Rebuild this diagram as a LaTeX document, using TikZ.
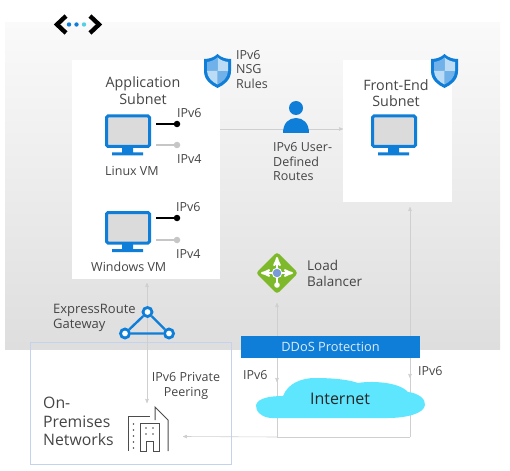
\documentclass[tikz,border=0pt]{standalone}
\usepackage{fontspec}
\setmainfont{Open Sans}
\usetikzlibrary{arrows}
\definecolor{azblue}{HTML}{0F7ED8}
\definecolor{txtgray}{HTML}{454545}
\definecolor{linegray}{HTML}{C6C6C6}
\definecolor{flowgray}{HTML}{CFCFCF}
\definecolor{cloudblue}{HTML}{5EE6FF}
\definecolor{lbgreen}{HTML}{7DB92B}
\definecolor{premblue}{HTML}{C5D2EE}
\tikzset{
  lbl_n/.style = {align=left, inner sep=0pt, text=txtgray,
    font=\fontsize{12.5}{14.5}\selectfont},
  big_n/.style = {lbl_n, font=\fontsize{15.8}{18.5}\selectfont},
  whitebox/.style = {fill=white, draw=none},
  flow/.style = {->, >=stealth', draw=flowgray, line width=0.6pt},
  wire_on/.style = {draw=black, line width=1.1pt},
  wire_off/.style = {draw=linegray, line width=1.1pt},
  dot_on/.style = {circle, fill=black, inner sep=0pt, minimum size=6.5pt},
  dot_off/.style = {circle, fill=linegray, inner sep=0pt, minimum size=6.5pt},
  hub_n/.style = {circle, draw=azblue, fill=white, line width=2.8pt,
    inner sep=0pt, minimum size=9pt},
  monitor/.pic = {
    \draw [azblue, fill=black!14, line width=3pt, rounded corners=1.5pt]
      (1.5,1.5) rectangle (44.5,32);
    \fill [azblue] (17,33) rectangle (28,38) (7,38) rectangle (38,41);
  },
  shieldicon/.pic = {
    \fill [azblue] (13.5,0) .. controls (10,3.5) and (5,5) .. (0,5) -- (0,17)
      .. controls (0,26) and (7,31) .. (13.5,34)
      .. controls (20,31) and (27,26) .. (27,17) -- (27,5)
      .. controls (22,5) and (17,3.5) .. (13.5,0) -- cycle;
    \begin{scope}
      \clip (13.5,3.5) .. controls (10.5,6) and (7,7.5) .. (3,8) -- (3,17)
        .. controls (3,23) and (8,28) .. (13.5,30.5)
        .. controls (19,28) and (24,23) .. (24,17) -- (24,8)
        .. controls (20,7.5) and (16.5,6) .. (13.5,3.5) -- cycle;
      \fill [azblue!60] (0,0) rectangle (13.5,17) (13.5,17) rectangle (27,34);
      \fill [azblue!28] (13.5,0) rectangle (27,17) (0,17) rectangle (13.5,34);
    \end{scope}
  },
}

\begin{document}
\begin{tikzpicture}[x=1pt,y=-1pt]
\useasboundingbox (0,0) rectangle (510,470);
% panel and subnets
\fill [top color=black!2, middle color=black!3, bottom color=black!13]
  (5,23) rectangle (500,349);
\path [whitebox] (72,60) rectangle (220,279);
\path [whitebox] (343,60) rectangle (452,202);
\draw [draw=premblue, line width=0.8pt] (30.5,342.5) rectangle (231,464);

% named points for the connectors
\coordinate (appright) at (220,129);
\coordinate (frontleft) at (343,129);
\coordinate (fronttop) at (410,207);
\coordinate (lbtop) at (277,303);
\coordinate (botleft) at (277,437);
\coordinate (botright) at (410,437);
\coordinate (officeright) at (183,436.5);
\coordinate (appbottom) at (147,283);
\coordinate (officetop) at (147,403);
\coordinate (tipl) at (277,382);
\coordinate (tipr) at (410,378);
\coordinate (stubl) at (277,376);
\coordinate (stubr) at (410,372);

\draw [flow] (appright) -- (frontleft);
\draw [flow, <->] (appbottom) -- (officetop);
\draw [flow] (botright) -- (fronttop);
\draw [flow] (botleft) -- (lbtop);
\draw [draw=flowgray, line width=0.6pt] (botleft) -- (botright);
\draw [flow] (botleft) -- (officeright);

% top logo
\draw [line width=4.4pt, line join=miter] (66,16) -- (57,24.5) -- (66,33);
\draw [line width=4.4pt, line join=miter] (90,16) -- (99,24.5) -- (90,33);
\fill [azblue] (69,24.5) circle (2.2) (76.5,24.5) circle (2.2);
\fill [cloudblue!90!black] (84,24.5) circle (2.2);

% application subnet
\node [lbl_n, align=center, font=\fontsize{14.3}{16.5}\selectfont] (appname) at (143,90.5) {Application\\Subnet};
\pic at (105,114.5) {monitor};
\pic at (105,211) {monitor};
\coordinate (linuxa) at (156,124);
\coordinate (linuxb) at (156,145);
\coordinate (wina) at (156,218);
\coordinate (winb) at (156,240);
\node [dot_on] (linux6) at (177,124) {};
\node [dot_off] (linux4) at (177,145) {};
\node [dot_on] (win6) at (177,218) {};
\node [dot_off] (win4) at (177,240) {};
\draw [wire_on] (linuxa) -- (linux6);
\draw [wire_off] (linuxb) -- (linux4);
\draw [wire_on] (wina) -- (win6);
\draw [wire_off] (winb) -- (win4);
\node [lbl_n, anchor=west] (linux6t) at (177,113) {IPv6};
\node [lbl_n, anchor=west] (linux4t) at (177,159) {IPv4};
\node [lbl_n, anchor=west] (win6t) at (176,207) {IPv6};
\node [lbl_n, anchor=west] (win4t) at (176,254) {IPv4};
\node [lbl_n, anchor=west] (linuxt) at (105,171) {Linux VM};
\node [lbl_n, anchor=west] (wint) at (91,267) {Windows VM};

% shields and routes
\pic at (204,54) {shieldicon};
\pic at (431,54) {shieldicon};
\node [lbl_n, anchor=west] (nsgt) at (236,69.5) {IPv6\\NSG\\Rules};
\node [lbl_n, anchor=west] (routest) at (273,162) {IPv6 User-\\Defined\\Routes};
\fill [azblue] (296,108) circle (7);
\fill [azblue] (283,133) .. controls (283,123) and (289,118) .. (296,118)
  .. controls (303,118) and (309,123) .. (309,133) -- cycle;

% front-end subnet
\node [lbl_n, align=center, font=\fontsize{14.3}{16.5}\selectfont] (frontname) at (396,93) {Front-End\\Subnet};
\pic at (371,114.5) {monitor};

% load balancer
\fill [lbgreen, rounded corners=3pt] (277,252) -- (298,273) -- (277,294) -- (256,273) -- cycle;
\draw [white, line width=2pt, -stealth'] (277,273) -- (277,257);
\draw [white, line width=2pt, -stealth'] (277,273) -- (261,273);
\draw [white, line width=2pt, -stealth'] (277,273) -- (293,273);
\draw [white, line width=2pt] (277,273) -- (277,285);
\fill [white] (277,285) circle (2.8);
\fill [cyan!45!blue!55, draw=white, line width=0.8pt] (277,273) circle (4.8);
\node [lbl_n, anchor=west, font=\fontsize{13.5}{16}\selectfont] (lbt) at (307,273) {Load\\Balancer};

% expressroute gateway
\node [hub_n] (gwtop) at (147.5,312) {};
\node [hub_n] (gwleft) at (125,333.5) {};
\node [hub_n] (gwright) at (169,333.5) {};
\draw [azblue, line width=2.4pt] (gwtop) -- (gwleft) -- (gwright) -- (gwtop);
\node [lbl_n, anchor=west, font=\fontsize{13}{15.5}\selectfont] (gwt) at (53,318) {ExpressRoute\\Gateway};

% ddos band and internet
\node [fill=azblue, draw=none, minimum width=179pt, minimum height=22pt, inner sep=0pt,
  text=white!85!azblue, font=\fontsize{12.8}{14}\selectfont] (ddos) at (330.5,347) {DDoS Protection};
\draw [flow] (stubl) -- (tipl);
\draw [flow] (stubr) -- (tipr);
\fill [cloudblue] (256,405) .. controls (258,398) and (270,396) .. (283,396)
  .. controls (288,383) and (302,378) .. (315,378)
  .. controls (335,378) and (350,380) .. (358,383)
  .. controls (368,381) and (398,381) .. (408,392)
  .. controls (418,393) and (426,399) .. (425,405)
  .. controls (424,414) and (405,418) .. (388,418)
  -- (272,418) .. controls (262,418) and (255,411) .. (256,405) -- cycle;
\node [big_n, text=black!85, font=\fontsize{16}{18}\selectfont] (inet) at (340,399) {Internet};
\node [lbl_n, anchor=west] (ipl) at (243,375) {IPv6};
\node [lbl_n, anchor=west] (ipr) at (418,371) {IPv6};

% on-premises
\node [lbl_n, align=center] (peert) at (186,386) {IPv6 Private\\Peering};
\node [big_n, anchor=west] (onprem) at (43,421.5) {On-\\Premises\\Networks};
\draw [black!70, line width=1pt] (128,451) -- (128,416) -- (150,416);
\draw [black!70, line width=1pt] (155,420) -- (155,407) -- (168,420) -- (168,451);
\draw [black!70, line width=1pt] (140,451) -- (140,423) -- (159,423) -- (159,451) -- (153,451)
  -- (153,441) -- (146,441) -- (146,451) -- cycle;
\foreach \yy in {424,430,436,442,448} \fill [black!70] (133.5,\yy) circle (0.9);
\foreach \yy in {428,434} {
  \fill [black!70] (146,\yy) circle (0.9);
  \fill [black!70] (153,\yy) circle (0.9);
}
\end{tikzpicture}
\end{document}
